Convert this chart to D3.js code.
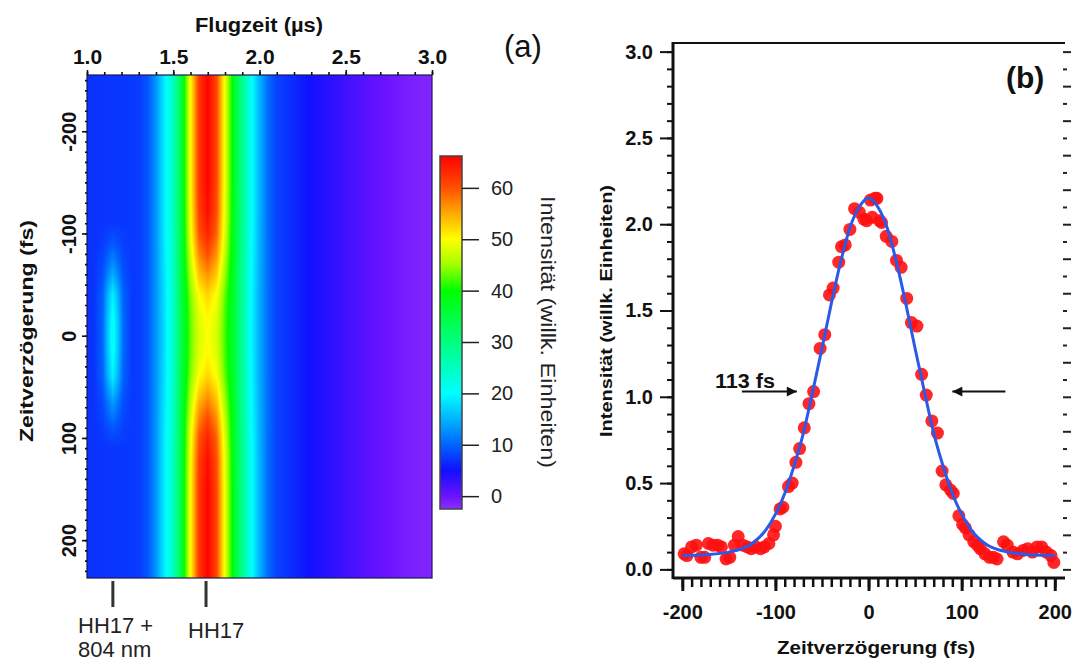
<!DOCTYPE html>
<html>
<head>
<meta charset="utf-8">
<script src="https://cdn.jsdelivr.net/npm/d3@7"></script>
<style>
  body { margin: 0; background: #fff; }
  svg { font-family: "Liberation Sans", Arial, sans-serif; }
</style>
</head>
<body>
<svg id="vis-svg"></svg>
<script>
// ---------- panel (a): Flugzeit vs. Zeitverzögerung map ----------
var flightTicks = [1.0, 1.5, 2.0, 2.5, 3.0];
var delayTicks = [-200, -100, 0, 100, 200];
var colorbarTicks = [0, 10, 20, 30, 40, 50, 60];

// flight time samples (µs) and HH17 profile
var flightTime = [1.00, 1.30, 1.35, 1.40, 1.45, 1.50, 1.55, 1.60, 1.65, 1.70, 1.75, 1.80, 1.85,
  1.90, 1.95, 2.00, 2.05, 2.10, 2.20, 2.30, 2.40, 2.50, 2.60, 2.70, 2.80, 2.90, 3.00];
// far from overlap (|delay| > 150 fs)
var hh17Far = [7, 7.5, 9, 13, 19, 25, 36, 50, 62, 66, 61, 49, 38,
  29, 21, 15, 10.5, 8, 6.5, 4.8, 3.6, 2.4, 1.2, 0.2, -0.6, -1.3, -1.8];
// at zero delay (depleted HH17)
var hh17Zero = [7, 7.5, 9, 13, 18, 24, 35, 43, 48, 50, 48, 42, 36,
  28, 20, 14.5, 10.5, 8, 6.5, 4.8, 3.6, 2.4, 1.2, 0.2, -0.6, -1.3, -1.8];

// how strongly each delay looks like the zero-delay profile
var overlapDelay = [-255, -150, -120, -100, -80, -60, -40, -20, 0, 20, 40, 60, 80, 100, 120, 150, 237];
var overlapWeight = [0, 0, 0.05, 0.15, 0.35, 0.6, 0.85, 0.97, 1, 0.97, 0.85, 0.6, 0.35, 0.15, 0.05, 0, 0];

// HH17 + 804 nm sideband
var sidebandTime = [1.04, 1.09, 1.12, 1.15, 1.18, 1.21, 1.26];
var sidebandAmp = [0, 3, 9, 14, 9, 3, 0];
var sidebandDelay = [-110, -90, -65, -40, -15, 0, 15, 40, 65, 90, 110];
var sidebandWeight = [0, 0.15, 0.45, 0.85, 0.98, 1, 0.98, 0.85, 0.45, 0.15, 0];

// rainbow colour table of the colour bar
var colorValues = [-2.5, 0, 5, 10, 15, 20, 25, 30, 40, 45, 50, 55, 60, 66.2];
var colorTable = ["#8c2eff", "#6a12ff", "#1010ff", "#0064ff", "#00b4ff", "#00ffff", "#00ffc0",
  "#00ff80", "#00ff00", "#a0ff00", "#ffff00", "#ffaa00", "#ff5000", "#ff0000"];

// markers under the map
var markerTime = [1.15, 1.69];

// ---------- panel (b): HH17 depletion vs. delay ----------
var scanDelay = [-198, -195, -190, -185, -180, -176, -172, -167, -162, -158, -153, -149, -144, -140,
  -135, -130, -126, -121, -116, -112, -107, -102, -100, -95, -92, -86, -82, -78, -74, -69, -64, -59,
  -52, -47, -42, -38, -32, -29, -25, -20, -15, -10, -5, -2, 2, 4, 7, 9, 12, 14, 19, 25, 30, 35, 41,
  46, 52, 57, 62, 68, 74, 79, 83, 88, 91, 97, 101, 104, 108, 113, 117, 120, 125, 130, 134, 138, 145,
  149, 155, 160, 166, 171, 176, 181, 186, 191, 196, 199];
var scanIntensity = [0.09, 0.08, 0.13, 0.14, 0.07, 0.07, 0.15, 0.14, 0.14, 0.13, 0.06, 0.07, 0.14, 0.19,
  0.14, 0.13, 0.12, 0.13, 0.12, 0.13, 0.15, 0.2, 0.25, 0.35, 0.36, 0.48, 0.5, 0.62, 0.7, 0.82, 0.96, 1.03,
  1.28, 1.36, 1.59, 1.63, 1.78, 1.87, 1.88, 1.97, 2.09, 2.07, 2.03, 2.02, 2.14, 2.04, 2.15, 2.15, 2.02, 2.01,
  1.93, 1.9, 1.79, 1.75, 1.57, 1.43, 1.41, 1.13, 1.01, 0.86, 0.79, 0.57, 0.49, 0.46, 0.44, 0.31, 0.26,
  0.24, 0.2, 0.16, 0.14, 0.12, 0.09, 0.07, 0.07, 0.06, 0.16, 0.14, 0.1, 0.09, 0.11, 0.12, 0.1, 0.13,
  0.13, 0.1, 0.08, 0.04];

// Gauss fit (FWHM 113 fs) read at a few delays
var fitDelay = [-200, -175, -150, -125, -110, -100, -90, -80, -70, -60, -50, -40, -30, -20, -10, 0,
  10, 20, 30, 40, 50, 60, 70, 80, 90, 100, 110, 125, 150, 175, 200];
var fitIntensity = [0.08, 0.085, 0.1, 0.15, 0.23, 0.32, 0.44, 0.6, 0.79, 1.03, 1.28, 1.54, 1.78, 1.98, 2.1, 2.15,
  2.1, 1.98, 1.78, 1.54, 1.28, 1.03, 0.79, 0.6, 0.44, 0.32, 0.23, 0.15, 0.1, 0.085, 0.08];

var bTicksX = [-200, -100, 0, 100, 200];
var bTicksY = [0, 0.5, 1.0, 1.5, 2.0, 2.5, 3.0];

// FWHM arrows: [delay from, delay to] at one intensity
var arrowLeft = [-136, -77];
var arrowRight = [147, 90];
var arrowLevel = 1.03;

var width = 1074;
var height = 661;

var svg = d3.select('#vis-svg')
  .attr('width', width)
  .attr('height', height);

/**
 * Draws the map of panel (a) with its colour bar
 */
function drawMap() {
  var box = {left: 87, right: 432, top: 75, bottom: 578};

  var xScale = d3.scaleLinear().domain([1, 3]).range([box.left, box.right]);
  var yScale = d3.scaleLinear().domain([-255, 237]).range([box.top, box.bottom]);
  var color = d3.scaleLinear().domain(colorValues).range(colorTable).clamp(true);

  var far = d3.scaleLinear().domain(flightTime).range(hh17Far).clamp(true);
  var zero = d3.scaleLinear().domain(flightTime).range(hh17Zero).clamp(true);
  var overlap = d3.scaleLinear().domain(overlapDelay).range(overlapWeight).clamp(true);
  var sbT = d3.scaleLinear().domain(sidebandTime).range(sidebandAmp).clamp(true);
  var sbD = d3.scaleLinear().domain(sidebandDelay).range(sidebandWeight).clamp(true);

  // paint the map into a canvas, one pixel per screen pixel
  var w = box.right - box.left, h = box.bottom - box.top;
  var canvas = document.createElement('canvas');
  canvas.width = w;
  canvas.height = h;
  var ctx = canvas.getContext('2d');
  var img = ctx.createImageData(w, h);
  for (var j = 0; j < h; j++) {
    var tau = yScale.invert(box.top + j + 0.5);
    var wo = overlap(tau), ws = sbD(tau);
    for (var i = 0; i < w; i++) {
      var t = xScale.invert(box.left + i + 0.5);
      var v = far(t) * (1 - wo) + zero(t) * wo + sbT(t) * ws;
      var c = d3.rgb(color(v));
      var k = (j * w + i) * 4;
      img.data[k] = c.r; img.data[k + 1] = c.g; img.data[k + 2] = c.b; img.data[k + 3] = 255;
    }
  }
  ctx.putImageData(img, 0, 0);

  var g = svg.append('g').attr('class', 'map');
  g.append('image')
    .attr('x', box.left).attr('y', box.top)
    .attr('width', w).attr('height', h)
    .attr('preserveAspectRatio', 'none')
    .attr('href', canvas.toDataURL());
  g.append('rect')
    .attr('x', box.left).attr('y', box.top)
    .attr('width', w).attr('height', h)
    .attr('fill', 'none').attr('stroke', '#1a1a50').attr('stroke-width', 1.2);

  // top axis
  g.append('g')
    .attr('transform', `translate(0,${box.top})`)
    .call(d3.axisTop(xScale).tickValues(d3.range(1, 3.001, 0.1)).tickSize(3).tickFormat(''))
    .call(a => a.select('.domain').remove());
  g.append('g')
    .attr('class', 'x axis')
    .attr('transform', `translate(0,${box.top})`)
    .call(d3.axisTop(xScale).tickValues(flightTicks).tickSize(5).tickPadding(6).tickFormat(d3.format('.1f')))
    .call(a => a.select('.domain').remove())
    .selectAll('text')
    .attr('font-size', 21).attr('font-weight', 'bold').attr('fill', '#111');
  g.selectAll('.tick line').attr('stroke', '#111').attr('stroke-width', 1.6);

  g.append('text')
    .attr('x', 259).attr('y', 32)
    .attr('text-anchor', 'middle')
    .attr('font-size', 20).attr('font-weight', 'bold').attr('fill', '#111')
    .attr('textLength', 128).attr('lengthAdjust', 'spacingAndGlyphs')
    .text('Flugzeit (µs)');

  // left axis with rotated labels
  g.append('g')
    .attr('transform', `translate(${box.left},0)`)
    .call(d3.axisLeft(yScale).tickValues(d3.range(-250, 231, 10)).tickSize(2).tickFormat(''))
    .call(a => a.select('.domain').remove())
    .selectAll('line').attr('stroke', '#111').attr('stroke-width', 1.6);
  g.append('g')
    .attr('class', 'y axis')
    .attr('transform', `translate(${box.left},0)`)
    .call(d3.axisLeft(yScale).tickValues(delayTicks).tickSize(5).tickFormat(String))
    .call(a => a.select('.domain').remove())
    .call(a => a.selectAll('line').attr('stroke', '#111').attr('stroke-width', 1.6))
    .selectAll('text')
    .attr('x', 0).attr('y', -11).attr('dy', 0)
    .attr('transform', 'rotate(-90)')
    .style('text-anchor', 'middle')
    .attr('font-size', 20).attr('font-weight', 'bold').attr('fill', '#111');

  g.append('text')
    .attr('transform', 'translate(33,331) rotate(-90)')
    .attr('text-anchor', 'middle')
    .attr('font-size', 18).attr('font-weight', 'bold').attr('fill', '#111')
    .attr('textLength', 222).attr('lengthAdjust', 'spacingAndGlyphs')
    .text('Zeitverzögerung (fs)');

  // HH17 markers below the map
  g.selectAll('.marker')
    .data(markerTime)
    .enter()
    .append('line')
    .attr('class', 'marker')
    .attr('x1', d => xScale(d)).attr('x2', d => xScale(d))
    .attr('y1', box.bottom + 3).attr('y2', box.bottom + 29)
    .attr('stroke', '#333').attr('stroke-width', 3);

  var lab = g.append('g').attr('font-size', 22).attr('fill', '#222');
  lab.append('text').attr('x', 78).attr('y', 633).text('HH17 +');
  lab.append('text').attr('x', 78).attr('y', 657).text('804 nm');
  lab.append('text').attr('x', 188).attr('y', 638).text('HH17');

  g.append('text')
    .attr('x', 504).attr('y', 57)
    .attr('font-size', 31).attr('fill', '#111')
    .text('(a)');

  // colour bar
  var cb = {left: 440, right: 462, top: 156, bottom: 509};
  var cScale = d3.scaleLinear().domain([colorValues[0], colorValues[colorValues.length - 1]])
    .range([cb.bottom, cb.top]);
  var grad = svg.append('defs').append('linearGradient')
    .attr('id', 'cbar').attr('x1', 0).attr('y1', 1).attr('x2', 0).attr('y2', 0);
  grad.selectAll('stop')
    .data(colorValues)
    .enter()
    .append('stop')
    .attr('offset', d => (cb.bottom - cScale(d)) / (cb.bottom - cb.top))
    .attr('stop-color', (d, i) => colorTable[i]);
  g.append('rect')
    .attr('x', cb.left).attr('y', cb.top)
    .attr('width', cb.right - cb.left).attr('height', cb.bottom - cb.top)
    .attr('fill', 'url(#cbar)').attr('stroke', '#444').attr('stroke-width', 1.5);
  g.append('g')
    .attr('transform', `translate(${cb.right},0)`)
    .call(d3.axisRight(cScale).tickValues(colorbarTicks).tickSize(17).tickPadding(12))
    .call(a => a.select('.domain').remove())
    .call(a => a.selectAll('line').attr('stroke', '#222').attr('stroke-width', 1.5))
    .selectAll('text')
    .attr('font-size', 20).attr('fill', '#222');

  g.append('text')
    .attr('transform', 'translate(541,332) rotate(90)')
    .attr('text-anchor', 'middle')
    .attr('font-size', 20).attr('fill', '#222')
    .attr('textLength', 272).attr('lengthAdjust', 'spacingAndGlyphs')
    .text('Intensität (willk. Einheiten)');
}

/**
 * Draws the delay scan of panel (b)
 */
function drawScan() {
  var box = {left: 673, right: 1065, top: 43, bottom: 578};
  var xScale = d3.scaleLinear().domain([-210, 211]).range([box.left, box.right]);
  var yScale = d3.scaleLinear().domain([-0.05, 3.05]).range([box.bottom, box.top]);

  var g = svg.append('g').attr('class', 'scan');

  // minor and major ticks, left
  g.append('g')
    .attr('transform', `translate(${box.left},0)`)
    .call(d3.axisLeft(yScale).tickValues(d3.range(0, 3.001, 0.1)).tickSize(6).tickFormat(''))
    .call(a => a.select('.domain').remove())
    .selectAll('line').attr('stroke', '#111').attr('stroke-width', 2);
  g.append('g')
    .attr('class', 'y axis')
    .attr('transform', `translate(${box.left},0)`)
    .call(d3.axisLeft(yScale).tickValues(bTicksY).tickSize(13).tickPadding(7).tickFormat(d3.format('.1f')))
    .call(a => a.select('.domain').remove())
    .call(a => a.selectAll('line').attr('stroke', '#111').attr('stroke-width', 2))
    .selectAll('text')
    .attr('font-size', 20).attr('font-weight', 'bold').attr('fill', '#111');

  // right mirror ticks, alternating length
  g.append('g')
    .attr('transform', `translate(${box.right - 2},0)`)
    .call(d3.axisRight(yScale).tickValues(d3.range(0, 3.001, 0.1)).tickSize(8).tickFormat(''))
    .call(a => a.select('.domain').remove())
    .selectAll('line')
    .attr('x2', (d, i) => i % 2 ? 4 : 8)
    .attr('stroke', '#222').attr('stroke-width', 2);

  // bottom ticks
  g.append('g')
    .attr('transform', `translate(0,${box.bottom})`)
    .call(d3.axisBottom(xScale).tickValues(d3.range(-200, 201, 10)).tickSize(9).tickFormat(''))
    .call(a => a.select('.domain').remove())
    .selectAll('line').attr('stroke', '#111').attr('stroke-width', 2.5);
  g.append('g')
    .attr('class', 'x axis')
    .attr('transform', `translate(0,${box.bottom})`)
    .call(d3.axisBottom(xScale).tickValues(bTicksX).tickSize(13).tickPadding(14).tickFormat(String))
    .call(a => a.select('.domain').remove())
    .call(a => a.selectAll('line').attr('stroke', '#111').attr('stroke-width', 3))
    .selectAll('text')
    .attr('font-size', 20).attr('font-weight', 'bold').attr('fill', '#111');

  // frame lines
  g.append('line')
    .attr('x1', box.left).attr('x2', box.left).attr('y1', box.top - 1).attr('y2', box.bottom + 1)
    .attr('stroke', '#111').attr('stroke-width', 3);
  g.append('line')
    .attr('x1', box.left).attr('x2', box.right).attr('y1', box.bottom).attr('y2', box.bottom)
    .attr('stroke', '#111').attr('stroke-width', 3);
  g.append('line')
    .attr('x1', box.left).attr('x2', box.right).attr('y1', box.top).attr('y2', box.top)
    .attr('stroke', '#111').attr('stroke-width', 2);

  // axis titles
  g.append('text')
    .attr('x', 876).attr('y', 654)
    .attr('text-anchor', 'middle')
    .attr('font-size', 19).attr('font-weight', 'bold').attr('fill', '#111')
    .attr('textLength', 198).attr('lengthAdjust', 'spacingAndGlyphs')
    .text('Zeitverzögerung (fs)');
  g.append('text')
    .attr('transform', 'translate(612,311) rotate(-90)')
    .attr('text-anchor', 'middle')
    .attr('font-size', 17).attr('font-weight', 'bold').attr('fill', '#111')
    .attr('textLength', 252).attr('lengthAdjust', 'spacingAndGlyphs')
    .text('Intensität (willk. Einheiten)');

  // data points
  var pts = scanDelay.map((d, i) => ({delay: d, value: scanIntensity[i]}));
  g.selectAll('circle')
    .data(pts)
    .enter()
    .append('circle')
    .attr('cx', d => xScale(d.delay))
    .attr('cy', d => yScale(d.value))
    .attr('r', 6.5)
    .attr('fill', '#ff1010')
    .attr('fill-opacity', 0.9);

  // Gauss fit
  var fit = fitDelay.map((d, i) => ({delay: d, value: fitIntensity[i]}));
  g.append('path')
    .datum(fit)
    .attr('fill', 'none')
    .attr('stroke', '#2b5ae8')
    .attr('stroke-width', 3)
    .attr('d', d3.line().curve(d3.curveMonotoneX)
      .x(d => xScale(d.delay)).y(d => yScale(d.value)));

  // FWHM arrows
  svg.select('defs').append('marker')
    .attr('id', 'head').attr('viewBox', '0 0 10 10')
    .attr('refX', 10).attr('refY', 5)
    .attr('markerWidth', 14).attr('markerHeight', 10)
    .attr('markerUnits', 'userSpaceOnUse')
    .attr('orient', 'auto')
    .append('path').attr('d', 'M0,0L10,5L0,10Z').attr('fill', '#111');
  [arrowLeft, arrowRight].forEach(function(a) {
    g.append('line')
      .attr('x1', xScale(a[0])).attr('x2', xScale(a[1]))
      .attr('y1', yScale(arrowLevel)).attr('y2', yScale(arrowLevel))
      .attr('stroke', '#111').attr('stroke-width', 2)
      .attr('marker-end', 'url(#head)');
  });
  g.append('text')
    .attr('x', xScale(-165)).attr('y', yScale(arrowLevel) - 4)
    .attr('font-size', 20).attr('font-weight', 'bold').attr('fill', '#111')
    .attr('textLength', 60).attr('lengthAdjust', 'spacingAndGlyphs')
    .text('113 fs');

  g.append('text')
    .attr('x', 1006).attr('y', 88)
    .attr('font-size', 30).attr('font-weight', 'bold').attr('fill', '#111')
    .text('(b)');
}

drawMap();
drawScan();
</script>
</body>
</html>
